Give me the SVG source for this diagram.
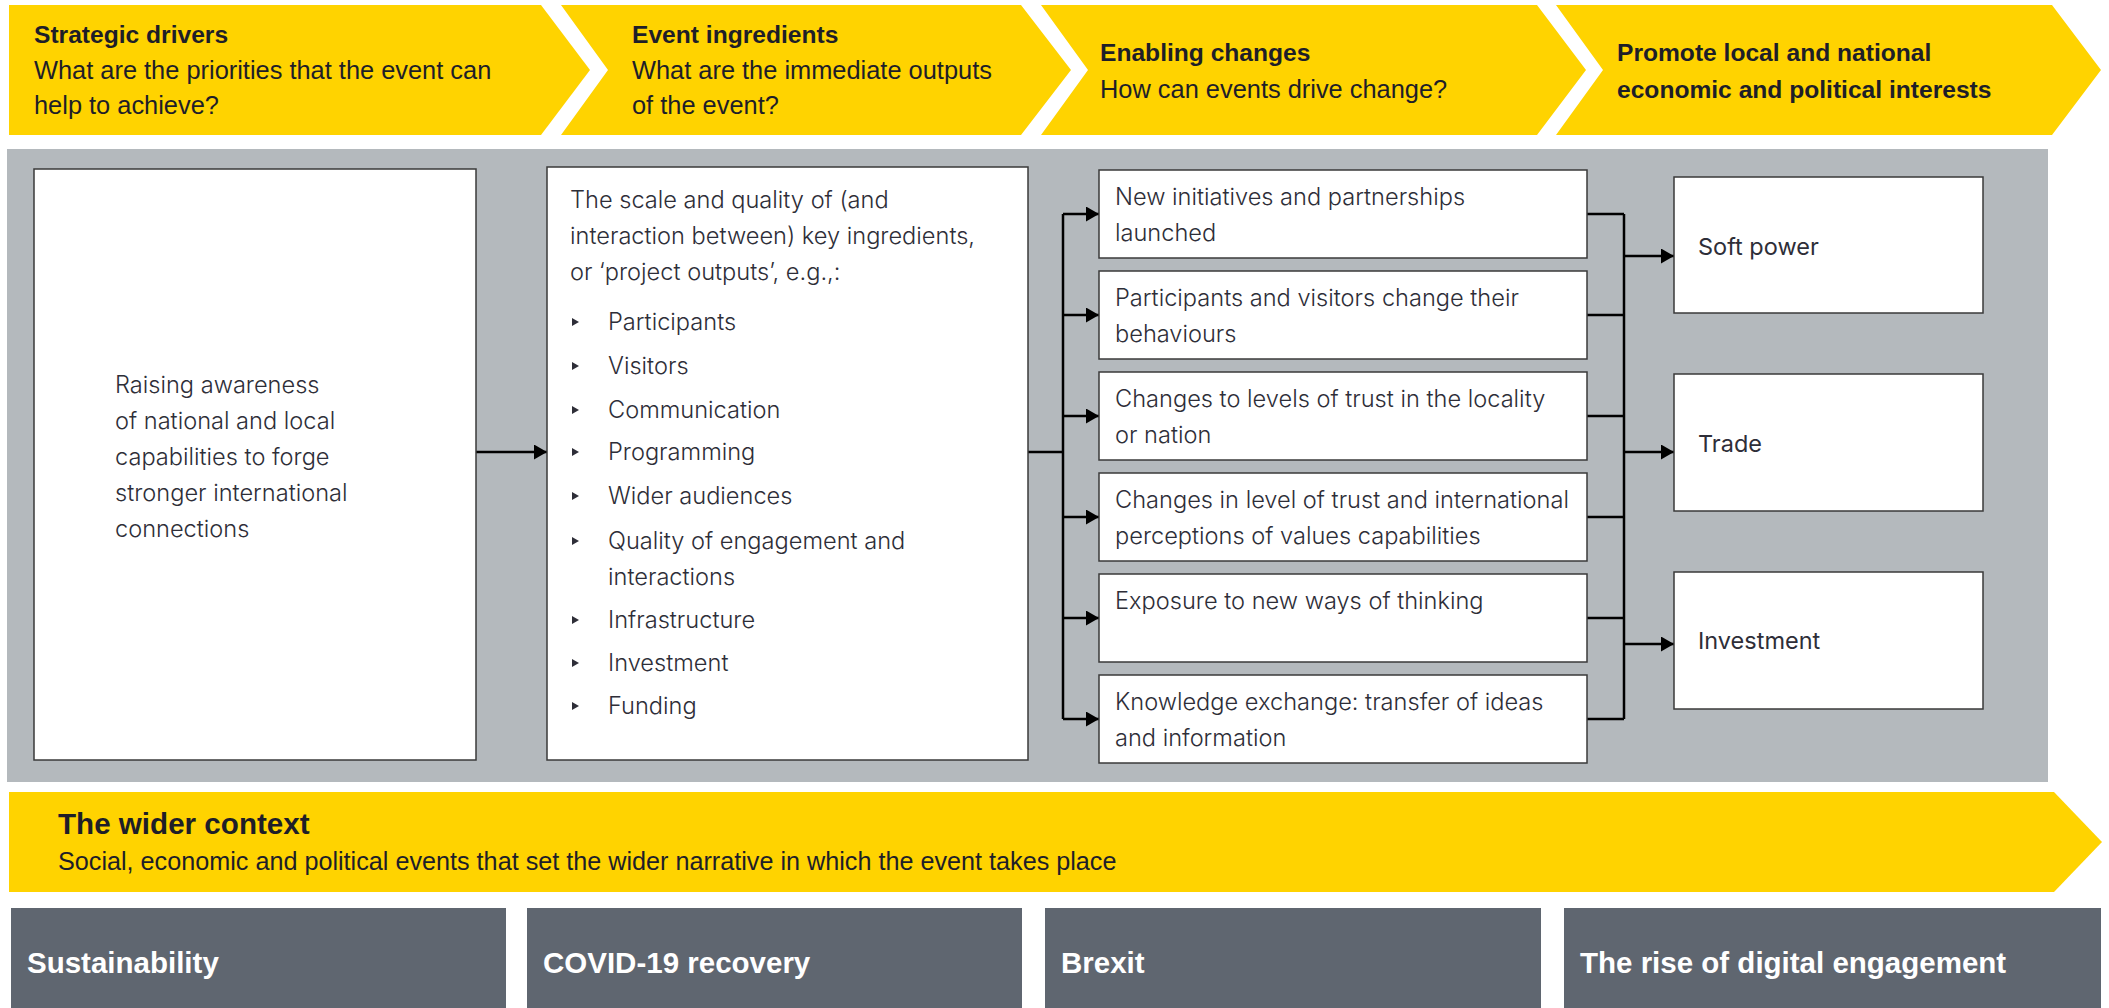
<svg xmlns="http://www.w3.org/2000/svg" width="2109" height="1008" viewBox="0 0 2109 1008">
<style>
.yel{fill:#FFD300}
.hd{font-family:"Liberation Sans",Arial,sans-serif;font-size:25.4px;fill:#1e1e28}
.hdb{font-family:"Liberation Sans",Arial,sans-serif;font-size:24.6px;font-weight:bold;fill:#1e1e28}
.box{fill:#fff;stroke:#3a3a3a;stroke-width:1.5}
.bt{font-family:Inter,"Open Sans",sans-serif;font-size:23.6px;font-weight:330;fill:#2e2e38}
.rt{font-family:Inter,"Open Sans",sans-serif;font-size:23.5px;font-weight:400;fill:#2e2e38}
.gb{fill:#5f6670}
.gt{font-family:"Liberation Sans",Arial,sans-serif;font-size:29.5px;font-weight:bold;fill:#fff}
.ctx{font-family:"Liberation Sans",Arial,sans-serif;font-size:29.6px;font-weight:bold;fill:#1e1e28}
.sub{font-family:"Liberation Sans",Arial,sans-serif;font-size:25.2px;fill:#1e1e28}
.cn{fill:none;stroke:#000;stroke-width:2.5}
.bul{fill:#2e2e38}
</style>
<defs>
<marker id="ah" viewBox="0 0 13 15" refX="13" refY="7.5" markerWidth="13" markerHeight="15" markerUnits="userSpaceOnUse" orient="auto">
<path d="M0,0 L13,7.5 L0,15 z" fill="#000"/>
</marker>
</defs>
<rect width="2109" height="1008" fill="#fff"/>

<g id="hdr-strategic">
<polygon class="yel" points="9,5 541,5 590,70 541,135 9,135"/>
<text class="hdb" x="34" y="43">Strategic drivers</text>
<text class="hd" x="34" y="79">What are the priorities that the event can</text>
<text class="hd" x="34" y="114">help to achieve?</text>
</g>
<g id="hdr-ingredients">
<polygon class="yel" points="561,5 1021,5 1071,70 1021,135 561,135 608,70"/>
<text class="hdb" x="632" y="43">Event ingredients</text>
<text class="hd" x="632" y="79">What are the immediate outputs</text>
<text class="hd" x="632" y="114">of the event?</text>
</g>
<g id="hdr-enabling">
<polygon class="yel" points="1041,5 1537,5 1586,70 1537,135 1041,135 1088,70"/>
<text class="hdb" x="1100" y="61">Enabling changes</text>
<text class="hd" x="1100" y="98">How can events drive change?</text>
</g>
<g id="hdr-promote">
<polygon class="yel" points="1556,5 2052,5 2101,70 2052,135 1556,135 1603,70"/>
<text class="hdb" x="1617" y="61">Promote local and national</text>
<text class="hdb" x="1617" y="98">economic and political interests</text>
</g>

<rect id="panel" x="7" y="149" width="2041" height="633" fill="#B4B9BD"/>

<g id="connectors">
<path class="cn" d="M476,452 H547" marker-end="url(#ah)"/>
<path class="cn" d="M1028,452 H1063 M1063,214 V719"/>
<path class="cn" d="M1063,214 H1099" marker-end="url(#ah)"/>
<path class="cn" d="M1063,315 H1099" marker-end="url(#ah)"/>
<path class="cn" d="M1063,416 H1099" marker-end="url(#ah)"/>
<path class="cn" d="M1063,517 H1099" marker-end="url(#ah)"/>
<path class="cn" d="M1063,618 H1099" marker-end="url(#ah)"/>
<path class="cn" d="M1063,719 H1099" marker-end="url(#ah)"/>
<path class="cn" d="M1587,214 H1624 M1587,315 H1624 M1587,416 H1624 M1587,517 H1624 M1587,618 H1624 M1587,719 H1624 M1624,214 V719"/>
<path class="cn" d="M1624,256 H1674" marker-end="url(#ah)"/>
<path class="cn" d="M1624,452 H1674" marker-end="url(#ah)"/>
<path class="cn" d="M1624,644 H1674" marker-end="url(#ah)"/>
</g>

<g id="raising">
<rect class="box" x="34" y="169" width="442" height="591"/>
<text class="bt" x="115" y="393">Raising awareness</text>
<text class="bt" x="115" y="429">of national and local</text>
<text class="bt" x="115" y="465">capabilities to forge</text>
<text class="bt" x="115" y="501">stronger international</text>
<text class="bt" x="115" y="537">connections</text>
</g>

<g id="ingredients">
<rect class="box" x="547" y="167" width="481" height="593"/>
<text class="bt" x="570" y="208">The scale and quality of (and</text>
<text class="bt" x="570" y="244">interaction between) key ingredients,</text>
<text class="bt" x="570" y="280">or ‘project outputs’, e.g.,:</text>
<polygon class="bul" points="572,318 579,322 572,326"/>
<text class="bt" x="608" y="330">Participants</text>
<polygon class="bul" points="572,362 579,366 572,370"/>
<text class="bt" x="608" y="374">Visitors</text>
<polygon class="bul" points="572,406 579,410 572,414"/>
<text class="bt" x="608" y="418">Communication</text>
<polygon class="bul" points="572,448 579,452 572,456"/>
<text class="bt" x="608" y="460">Programming</text>
<polygon class="bul" points="572,492 579,496 572,500"/>
<text class="bt" x="608" y="504">Wider audiences</text>
<polygon class="bul" points="572,537 579,541 572,545"/>
<text class="bt" x="608" y="549">Quality of engagement and</text>
<text class="bt" x="608" y="585">interactions</text>
<polygon class="bul" points="572,616 579,620 572,624"/>
<text class="bt" x="608" y="628">Infrastructure</text>
<polygon class="bul" points="572,659 579,663 572,667"/>
<text class="bt" x="608" y="671">Investment</text>
<polygon class="bul" points="572,702 579,706 572,710"/>
<text class="bt" x="608" y="714">Funding</text>
</g>

<g id="change-1">
<rect class="box" x="1099" y="170" width="488" height="88"/>
<text class="bt" x="1115" y="205">New initiatives and partnerships</text>
<text class="bt" x="1115" y="241">launched</text>
</g>
<g id="change-2">
<rect class="box" x="1099" y="271" width="488" height="88"/>
<text class="bt" x="1115" y="306">Participants and visitors change their</text>
<text class="bt" x="1115" y="342">behaviours</text>
</g>
<g id="change-3">
<rect class="box" x="1099" y="372" width="488" height="88"/>
<text class="bt" x="1115" y="407">Changes to levels of trust in the locality</text>
<text class="bt" x="1115" y="443">or nation</text>
</g>
<g id="change-4">
<rect class="box" x="1099" y="473" width="488" height="88"/>
<text class="bt" x="1115" y="508">Changes in level of trust and international</text>
<text class="bt" x="1115" y="544">perceptions of values capabilities</text>
</g>
<g id="change-5">
<rect class="box" x="1099" y="574" width="488" height="88"/>
<text class="bt" x="1115" y="609">Exposure to new ways of thinking</text>
</g>
<g id="change-6">
<rect class="box" x="1099" y="675" width="488" height="88"/>
<text class="bt" x="1115" y="710">Knowledge exchange: transfer of ideas</text>
<text class="bt" x="1115" y="746">and information</text>
</g>

<g id="soft-power">
<rect class="box" x="1674" y="177" width="309" height="136"/>
<text class="rt" x="1698" y="255">Soft power</text>
</g>
<g id="trade">
<rect class="box" x="1674" y="374" width="309" height="137"/>
<text class="rt" x="1698" y="452">Trade</text>
</g>
<g id="investment">
<rect class="box" x="1674" y="572" width="309" height="137"/>
<text class="rt" x="1698" y="649">Investment</text>
</g>

<g id="wider-context">
<polygon class="yel" points="9,792 2054,792 2102,842 2054,892 9,892"/>
<text class="ctx" x="58" y="834">The wider context</text>
<text class="sub" x="58" y="870">Social, economic and political events that set the wider narrative in which the event takes place</text>
</g>

<g id="ctx-sustainability">
<rect class="gb" x="11" y="908" width="495" height="100"/>
<text class="gt" x="27" y="973">Sustainability</text>
</g>
<g id="ctx-covid">
<rect class="gb" x="527" y="908" width="495" height="100"/>
<text class="gt" x="543" y="973">COVID-19 recovery</text>
</g>
<g id="ctx-brexit">
<rect class="gb" x="1045" y="908" width="496" height="100"/>
<text class="gt" x="1061" y="973">Brexit</text>
</g>
<g id="ctx-digital">
<rect class="gb" x="1564" y="908" width="537" height="100"/>
<text class="gt" x="1580" y="973">The rise of digital engagement</text>
</g>
</svg>
